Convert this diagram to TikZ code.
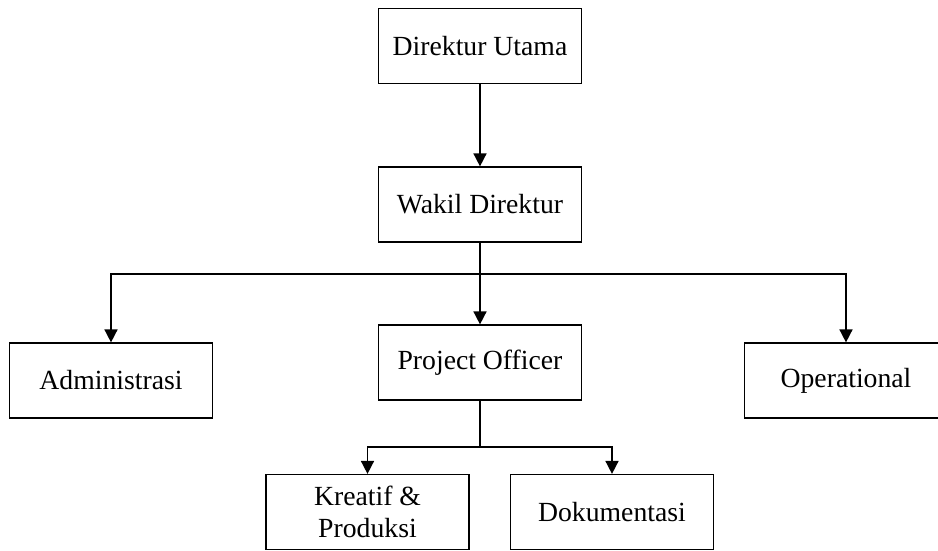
\documentclass[tikz,border=0pt]{standalone}
\usepackage{fontspec}
\setmainfont{Liberation Serif}
\usetikzlibrary{arrows.meta}

\tikzset{
    jabatan/.style={draw, line width=1.2pt, minimum width=203pt, minimum height=75pt,
        inner sep=0pt, align=center, font=\fontsize{27.7}{32}\selectfont},
    panah/.style={line width=1.6pt, -{Triangle[length=13pt,width=13pt]}},
    garis/.style={line width=1.6pt}
}

\begin{document}
\begin{tikzpicture}[x=1pt, y=-1pt]
        \useasboundingbox (0,0) rectangle (938,550);
        \def\ycabang{274}
        \def\ybawah{447}
    
        % kotak jabatan
        \foreach \nama/\x/\y/\teks in {utama/480/46/{Direktur Utama}, wakil/480/204.5/{Wakil Direktur},
                officer/480/362.5/{Project Officer}, admin/111/380.5/{Administrasi},
                operasional/846/380.5/{Operational}, kreatif/367.5/512/{Kreatif \&\\ Produksi},
                dokumentasi/612/512/{Dokumentasi}} {
            \node[jabatan] (\nama) at (\x,\y) {\teks};
        }
    
        \coordinate (cabang1) at (480,\ycabang);
        \coordinate (cabang2) at (480,\ybawah);
    
        % garis penghubung
        \draw[panah] (utama) -- (wakil);
        \draw[garis] (wakil) -- (cabang1);
        \draw[panah] (cabang1) -- (officer);
        \draw[panah] (cabang1) -| (admin.north);
        \draw[panah] (cabang1) -| (operasional.north);
        \draw[garis] (officer) -- (cabang2);
        \draw[panah] (cabang2) -| (kreatif.north);
        \draw[panah] (cabang2) -| (dokumentasi.north);
    \end{tikzpicture}
\end{document}
